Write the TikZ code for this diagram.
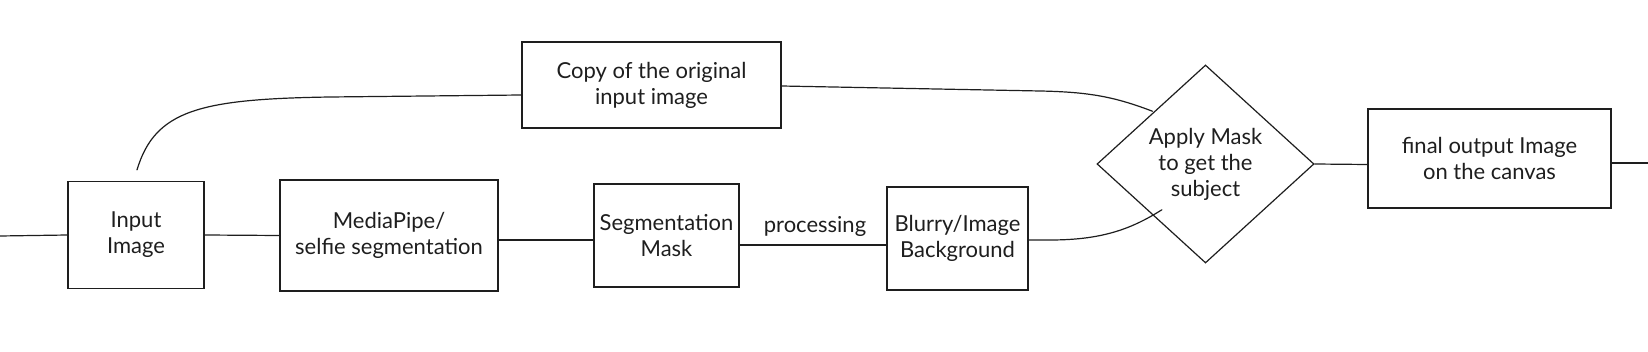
\documentclass[tikz,border=0pt]{standalone}
\usepackage{fontspec}
\setmainfont{Lato}
\usetikzlibrary{shapes.geometric,calc}
\definecolor{ink}{HTML}{1E1E1E}
\tikzset{
  box/.style={draw=ink, line width=1.2pt, rectangle, inner sep=2pt, align=center, font=\fontsize{22}{26}\selectfont, text=ink},
  decide/.style={draw=ink, line width=1.2pt, diamond, inner sep=0pt, align=center, font=\fontsize{22}{26}\selectfont, text=ink},
  link/.style={draw=ink, line width=1.2pt, line cap=round},
  lbl/.style={font=\fontsize{22}{26}\selectfont, text=ink, inner sep=1pt}
}
\begin{document}
\begin{tikzpicture}[x=1pt,y=-1pt]
\useasboundingbox (0,0) rectangle (1648,352);
\node[box, minimum width=136pt, minimum height=107pt] (in) at (136,235) {Input\\Image};
\node[box, minimum width=218pt, minimum height=111pt] (mp) at (389,235.5) {MediaPipe/\\selfie segmentation};
\node[box, minimum width=145pt, minimum height=103pt] (seg) at (666.5,235.5) {Segmentation\\Mask};
\node[box, minimum width=141pt, minimum height=103pt] (blur) at (957.5,238.5) {Blurry/Image\\Background};
\node[box, minimum width=259pt, minimum height=86pt] (copy) at (651.5,85) {Copy of the original\\input image};
\node[decide, minimum width=217pt, minimum height=198pt] (dia) at (1205.5,164) {Apply Mask\\to get the\\subject};
\node[box, minimum width=243pt, minimum height=99pt] (fin) at (1489.5,158.5) {final output Image\\on the canvas};
\node[lbl] (proc) at (815,226) {processing};
\coordinate (lft) at (0,236);
\coordinate (rgt) at (1648,163);
\coordinate (top) at ($(in.north)+(1,-11)$);
\coordinate (dtop) at ($(dia.west)!0.55!(dia.north)+(-4,2)$);
\coordinate (dbot) at ($(dia.west)!0.6!(dia.south)+(0,-14)$);
\draw[link] (lft) -- (in.west);
\draw[link] (in.east) -- (mp.west);
\draw[link] ([yshift=-4.5pt]mp.east) -- ([yshift=-4.5pt]seg.west);
\draw[link] ([yshift=-9.5pt]seg.east) -- ([yshift=-6.5pt]blur.west);
\draw[link] ([yshift=-1.5pt]blur.east) -- (1050,240) .. controls (1100,240) and (1130,230) .. (dbot);
\draw[link] (top) .. controls (155,110) and (200,99) .. (330,97) -- ([yshift=-10pt]copy.west);
\draw[link] ([yshift=-1pt]copy.east) -- (1040,91) .. controls (1090,92) and (1115,97) .. (dtop);
\draw[link] (dia.east) -- ([yshift=-6pt]fin.west);
\draw[link] ([yshift=-4.5pt]fin.east) -- (rgt);
\end{tikzpicture}
\end{document}
